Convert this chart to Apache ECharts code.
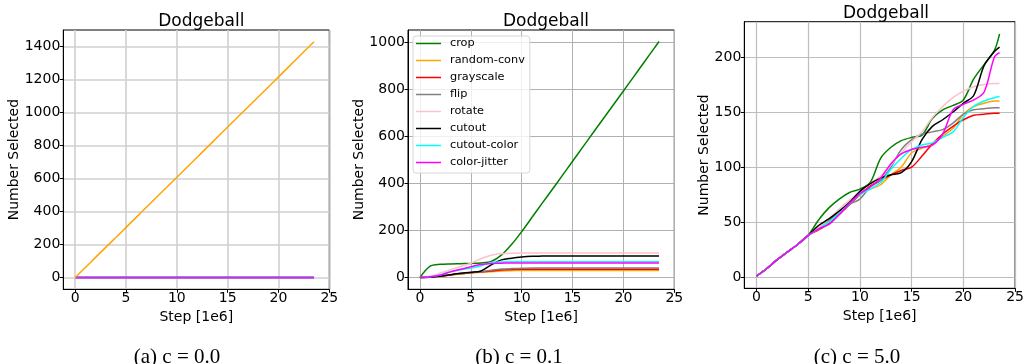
<!DOCTYPE html>
<html>
<head>
<meta charset="utf-8">
<title>Dodgeball</title>
<script src="https://cdn.jsdelivr.net/npm/echarts@6/dist/echarts.min.js"></script>
<style>
  html, body { margin: 0; padding: 0; background: #fff; }
  #main { width: 1027px; height: 364px; }
</style>
</head>
<body>
<div id="main"></div>
<script>
// x positions (Step [1e6]) shared by every curve
const steps = [0, 1, 2, 3, 4, 5, 6, 7, 8, 9, 10, 11, 12, 13, 14, 15, 16, 17, 18, 19, 20, 21, 22, 23, 23.5];

const names = ['crop', 'random-conv', 'grayscale', 'flip', 'rotate', 'cutout', 'cutout-color', 'color-jitter'];
const colors = ['#008000', '#ffa500', '#ff0000', '#808080', '#ffc0cb', '#000000', '#00ffff', '#ff00ff'];

const xTicks = [0, 5, 10, 15, 20, 25];
const yTicksA = [0, 200, 400, 600, 800, 1000, 1200, 1400];
const yTicksB = [0, 200, 400, 600, 800, 1000];
const yTicksC = [0, 50, 100, 150, 200];

// (a) c = 0.0
const aRandomConv = [0, 61, 122, 183, 243, 304, 365, 426, 487, 548, 608, 669, 730, 791, 852, 913, 974, 1034, 1095, 1156, 1217, 1278, 1339, 1400, 1430];
const aOthers = [0, 0, 0, 0, 0, 0, 0, 0, 0, 0, 0, 0, 0, 0, 0, 0, 0, 0, 0, 0, 0, 0, 0, 0, 0];

// (b) c = 0.1
const bCrop = [0, 48, 56, 58, 59, 60, 62, 68, 95, 140, 195, 255, 315, 374, 434, 494, 554, 614, 674, 733, 793, 853, 913, 973, 1003];
const bRandomConv = [0, 2, 6, 11, 15, 19, 22, 25, 28, 29, 30, 30, 30, 30, 30, 30, 30, 30, 30, 30, 30, 30, 30, 30, 30];
const bGrayscale = [0, 2, 6, 11, 16, 20, 24, 28, 32, 34, 35, 35, 35, 35, 35, 35, 35, 35, 35, 35, 35, 35, 35, 35, 35];
const bFlip = [0, 2, 7, 12, 17, 21, 25, 31, 36, 38, 39, 40, 40, 40, 40, 40, 40, 40, 40, 40, 40, 40, 40, 40, 40];
const bRotate = [0, 5, 19, 33, 47, 61, 80, 95, 101, 103, 104, 104, 104, 104, 104, 104, 104, 104, 104, 104, 104, 104, 104, 104, 104];
const bCutout = [0, 1, 5, 12, 18, 22, 28, 54, 75, 82, 87, 90, 91, 92, 92, 92, 92, 92, 92, 92, 92, 92, 92, 92, 92];
const bCutoutColor = [0, 3, 12, 25, 33, 40, 50, 64, 66, 67, 67, 67, 67, 67, 67, 67, 67, 67, 67, 67, 67, 67, 67, 67, 67];
const bColorJitter = [0, 3, 10, 24, 35, 46, 55, 60, 61, 62, 62, 62, 62, 62, 62, 62, 62, 62, 62, 62, 62, 62, 62, 62, 62];

// (c) c = 5.0
const cCrop = [1, 8, 16, 23, 30, 38, 52, 63, 71, 77, 80, 86, 108, 118, 124, 127, 129, 144, 152, 156, 161, 180, 193, 206, 221];
const cRandomConv = [1, 8, 16, 23, 30, 38, 44, 51, 58, 67, 76, 80, 84, 93, 100, 113, 117, 121, 128, 135, 148, 155, 158, 160, 160];
const cGrayscale = [1, 8, 16, 23, 30, 38, 43, 49, 57, 66, 75, 83, 88, 93, 97, 100, 110, 121, 130, 137, 143, 147, 148, 149, 149];
const cFlip = [1, 8, 16, 23, 30, 38, 45, 52, 58, 66, 71, 82, 88, 100, 116, 125, 130, 132, 134, 140, 148, 152, 153, 154, 154];
const cRotate = [1, 8, 16, 23, 30, 38, 45, 53, 62, 70, 77, 85, 92, 102, 113, 123, 132, 145, 155, 163, 169, 173, 175, 176, 176];
const cCutout = [1, 8, 16, 23, 30, 38, 47, 53, 60, 68, 78, 85, 90, 93, 95, 105, 125, 137, 143, 150, 158, 165, 192, 205, 209];
const cCutoutColor = [1, 8, 16, 23, 30, 38, 44, 50, 58, 67, 75, 80, 86, 98, 108, 116, 120, 122, 127, 132, 145, 155, 160, 163, 164];
const cColorJitter = [1, 8, 16, 23, 30, 38, 44, 48, 57, 67, 76, 82, 90, 103, 112, 116, 118, 120, 130, 152, 157, 161, 168, 200, 204];

const panelB = [bCrop, bRandomConv, bGrayscale, bFlip, bRotate, bCutout, bCutoutColor, bColorJitter];
const panelC = [cCrop, cRandomConv, cGrayscale, cFlip, cRotate, cCutout, cCutoutColor, cColorJitter];

const font = 'DejaVu Sans';
const axisText = { fontFamily: font, fontSize: 14, color: '#000' };

function pairs (vals) {
  return steps.map((s, i) => [s, vals[i]]);
}

function plain (v) {
  return String(v);
}

function xAxisOf (idx, gridColor, gridWidth) {
  return {
    type: 'value', gridIndex: idx, min: -1.175, max: 25,
    name: 'Step [1e6]', nameLocation: 'middle', nameGap: 16,
    nameTextStyle: Object.assign({}, axisText),
    axisLine: { show: true, onZero: false, lineStyle: { color: '#000', width: 1 } },
    axisTick: { show: true, length: 3.5, customValues: xTicks, lineStyle: { color: '#000' } },
    axisLabel: Object.assign({ customValues: xTicks, formatter: plain, margin: 2 }, axisText),
    splitLine: { show: true, lineStyle: { color: gridColor, width: gridWidth } }
  };
}

function yAxisOf (idx, min, max, ticks, gap, gridColor, gridWidth) {
  return {
    type: 'value', gridIndex: idx, min: min, max: max,
    name: 'Number Selected', nameLocation: 'middle', nameGap: gap, nameMoveOverlap: false,
    nameTextStyle: Object.assign({}, axisText),
    axisLine: { show: true, onZero: false, lineStyle: { color: '#000', width: 1 } },
    axisTick: { show: true, length: 3.5, customValues: ticks, lineStyle: { color: '#000' } },
    axisLabel: Object.assign({ customValues: ticks, formatter: plain, margin: 3 }, axisText),
    splitLine: { show: true, lineStyle: { color: gridColor, width: gridWidth } }
  };
}

function line (name, color, idx, vals, width) {
  return {
    name: name, type: 'line', xAxisIndex: idx, yAxisIndex: idx,
    data: pairs(vals), showSymbol: false, symbol: 'none', smooth: 0.3,
    lineStyle: { color: color, width: width || 1.5 }, itemStyle: { color: color },
    silent: true
  };
}

const series = [];
// panel a: everything else stays at zero
series.push(line('others', '#b23ee0', 0, aOthers, 2.5));
series.push(line('random-conv', colors[1], 0, aRandomConv, 1.5));
names.forEach((n, i) => series.push(line(n, colors[i], 1, panelB[i])));
names.forEach((n, i) => series.push(line(n, colors[i], 2, panelC[i])));

function caption (text, x) {
  return {
    text: text, left: x, top: 341.5, textAlign: 'center',
    textStyle: { fontFamily: 'Liberation Serif', fontSize: 21, fontWeight: 'normal', color: '#000' }
  };
}
function heading (x, y) {
  return {
    text: 'Dodgeball', left: x, top: y, textAlign: 'center',
    textStyle: { fontFamily: font, fontSize: 17, fontWeight: 'normal', color: '#000' }
  };
}

const chart = echarts.init(document.getElementById('main'), null, { renderer: 'canvas' });
chart.setOption({
  animation: false,
  backgroundColor: '#fff',
  textStyle: { fontFamily: font, fontSize: 14, color: '#000' },
  title: [
    heading(196.3, 8.5), heading(541, 8.5), heading(881, 0.5),
    caption('(a) c = 0.0', 172), caption('(b) c = 0.1', 514), caption('(c) c = 5.0', 852)
  ],
  legend: {
    data: names, orient: 'vertical', left: 413, top: 36,
    padding: [2, 5, 5, 3], itemWidth: 25, itemHeight: 14, itemGap: 6,
    icon: 'path://M0,6.5L25,6.5L25,8L0,8Z',
    backgroundColor: 'rgba(255,255,255,0.8)', borderColor: '#d6d6d6', borderWidth: 1, borderRadius: 3,
    textStyle: { fontFamily: font, fontSize: 11.3, color: '#000', padding: [0, 0, 0, 4] }
  },
  grid: [
    { left: 63.3, top: 30, width: 266, height: 259.3, show: true, borderColor: '#000', borderWidth: 1, containLabel: false },
    { left: 408, top: 30, width: 266.3, height: 259.3, show: true, borderColor: '#000', borderWidth: 1, containLabel: false },
    { left: 744.3, top: 21.7, width: 274, height: 266.6, show: true, borderColor: '#000', borderWidth: 1, containLabel: false }
  ],
  xAxis: [
    xAxisOf(0, '#d0d0d0', 1.6),
    xAxisOf(1, '#b0b0b0', 1),
    xAxisOf(2, '#bdbdbd', 1.2)
  ],
  yAxis: [
    yAxisOf(0, -71.5, 1501.5, yTicksA, 41.5, '#d0d0d0', 1.6),
    yAxisOf(1, -50, 1052, yTicksB, 41.5, '#b0b0b0', 1),
    yAxisOf(2, -10, 232, yTicksC, 33, '#bdbdbd', 1.2)
  ],
  series: series
});
</script>
</body>
</html>
